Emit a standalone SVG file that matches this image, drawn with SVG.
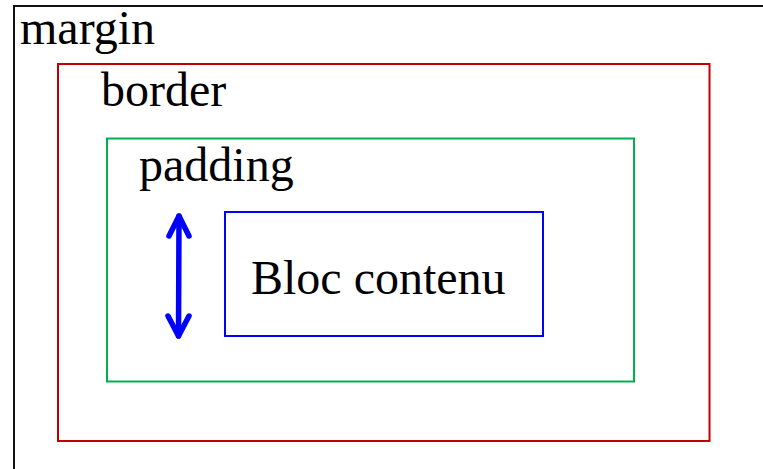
<svg xmlns="http://www.w3.org/2000/svg" width="763" height="469" viewBox="0 0 763 469">
<style>
text{font-family:"Liberation Serif","Times New Roman",serif;font-size:48px;fill:#000}
.box{fill:none;stroke-width:2}
</style>
<rect width="763" height="469" fill="#fff"/>
<g id="margin"><rect class="box" x="14" y="6" width="800" height="500" stroke="#111" stroke-width="2.2"/><text x="20" y="44">margin</text></g>
<g id="border"><rect class="box" x="58" y="64" width="651.5" height="377" stroke="#c00000"/><text x="101" y="106">border</text></g>
<g id="padding"><rect class="box" x="107" y="138.5" width="527" height="243" stroke="#00b050"/><text x="139" y="181">padding</text></g>
<g id="contenu"><rect class="box" x="225" y="212" width="318" height="124" stroke="#0000ff"/><text x="251" y="294">Bloc contenu</text></g>
<g id="connectors" fill="none" stroke="#0000ff" stroke-width="5.5" stroke-linecap="round" stroke-linejoin="round">
<line x1="179" y1="216" x2="178.5" y2="336"/>
<polyline points="169,236 179,216 189,236"/>
<polyline points="168,316 178.5,336 189,316"/>
</g>
</svg>
